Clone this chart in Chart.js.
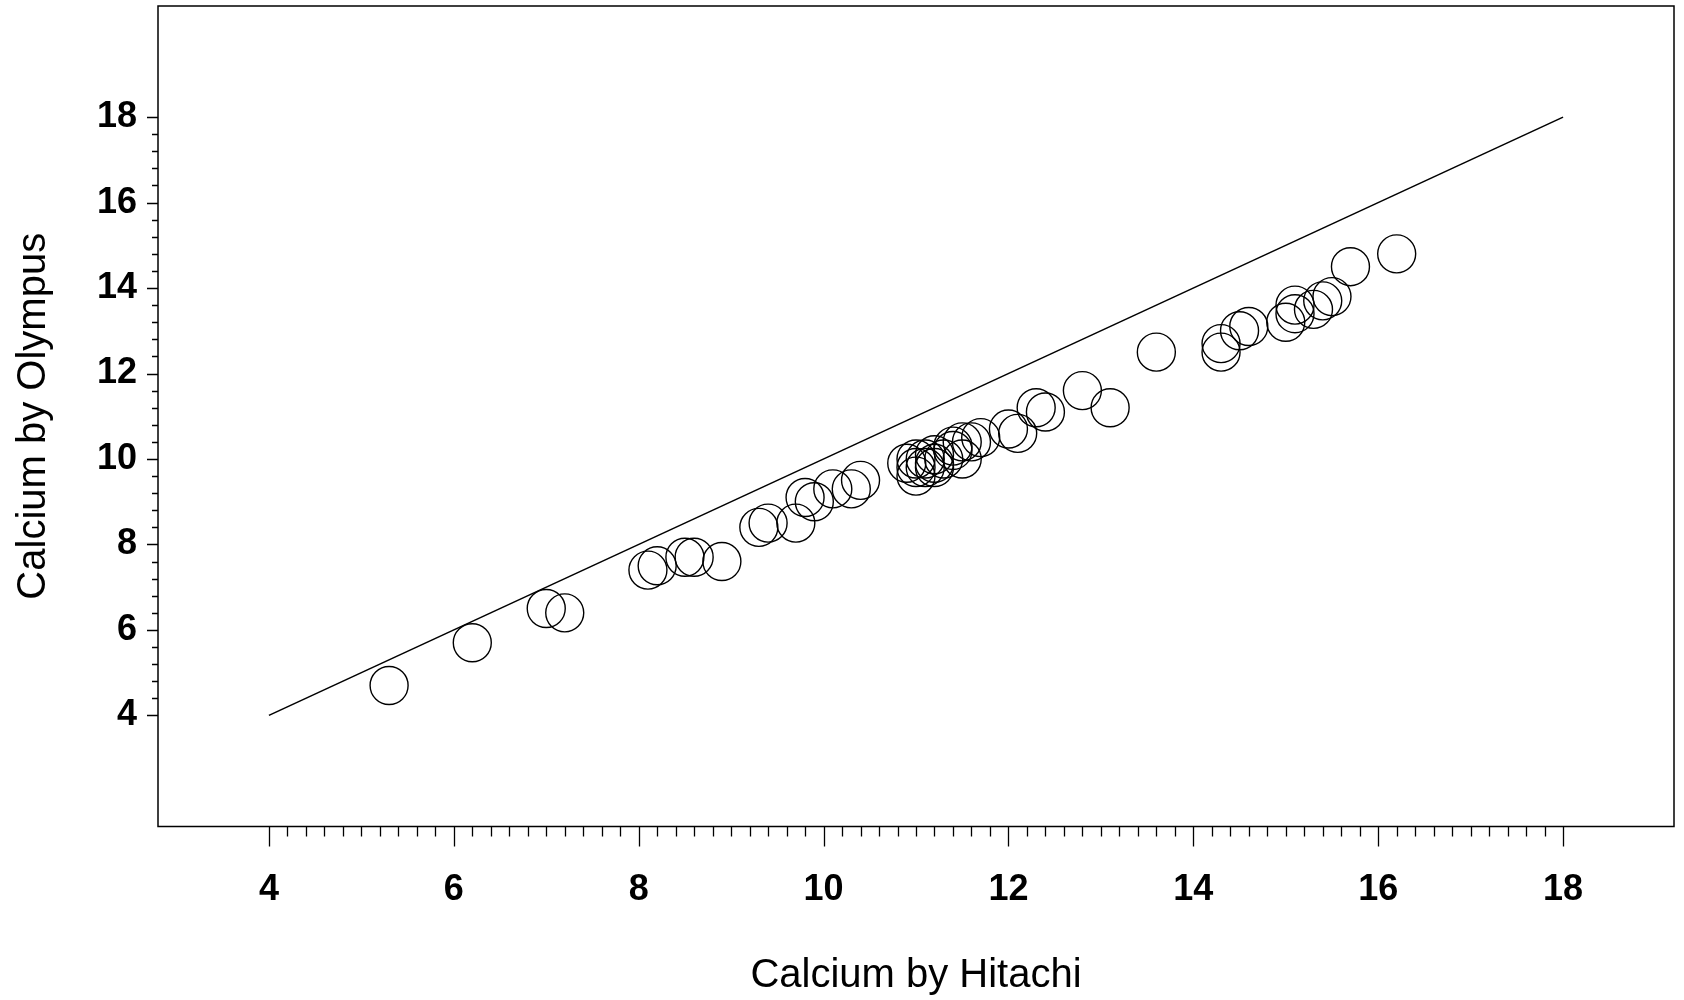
<!DOCTYPE html>
<html><head><meta charset="utf-8">
<script src="https://cdn.jsdelivr.net/npm/chart.js@4"></script>
<style>html,body{margin:0;padding:0;background:#fff}#wrap{width:1684px;height:1000px}</style>
</head><body><div id="wrap"><canvas id="c" width="1684" height="1000"></canvas></div>
<script>
const hitachi = [5.3, 6.2, 7.0, 7.2, 8.1, 8.2, 8.5, 8.6, 8.9, 9.3, 9.4, 9.7, 9.8, 9.9, 10.1, 10.3, 10.4,
  10.9, 11.0, 11.0, 11.0, 11.1, 11.1, 11.2, 11.2, 11.2, 11.3, 11.4, 11.4, 11.5, 11.5, 11.6, 11.7,
  12.0, 12.1, 12.3, 12.4, 12.8, 13.1, 13.6, 14.3, 14.3, 14.5, 14.6, 15.0, 15.1, 15.1, 15.3, 15.4, 15.5, 15.7, 16.2];
const olympus = [4.7, 5.7, 6.5, 6.4, 7.4, 7.5, 7.7, 7.7, 7.6, 8.4, 8.5, 8.5, 9.1, 9.0, 9.3, 9.3, 9.5,
  9.9, 9.6, 10.0, 9.8, 10.0, 9.8, 9.8, 9.9, 10.1, 10.0, 10.2, 10.3, 10.4, 10.0, 10.4, 10.5,
  10.7, 10.6, 11.2, 11.1, 11.6, 11.2, 12.5, 12.7, 12.5, 13.0, 13.1, 13.2, 13.4, 13.6, 13.5, 13.7, 13.8, 14.5, 14.8];
const refLineX = [4, 18];
const refLineY = [4, 18];
const xTickLabels = [4, 6, 8, 10, 12, 14, 16, 18];
const yTickLabels = [4, 6, 8, 10, 12, 14, 16, 18];
const xMinorStep = 0.2;
const yMinorStep = 0.4;
const xTitle = 'Calcium by Hitachi';
const yTitle = 'Calcium by Olympus';

const FONT = "'Liberation Sans', Arial, Helvetica, sans-serif";

const points = hitachi.map((x, i) => ({x: x, y: olympus[i]}));
const lineData = refLineX.map((x, i) => ({x: x, y: refLineY[i]}));

const frameTicks = {
  id: 'frameTicks',
  afterDatasetsDraw(chart) {
    const ctx = chart.ctx;
    const a = chart.chartArea;
    const xs = chart.scales.x, ys = chart.scales.y;
    ctx.save();
    ctx.strokeStyle = '#000';
    ctx.lineWidth = 1.5;
    ctx.strokeRect(a.left, a.top, a.right - a.left, a.bottom - a.top);
    ctx.lineWidth = 1.3;
    ctx.beginPath();
    const x0 = xTickLabels[0], x1 = xTickLabels[xTickLabels.length - 1];
    const nX = Math.round((x1 - x0) / xMinorStep);
    for (let i = 0; i <= nX; i++) {
      const v = x0 + i * xMinorStep;
      const major = xTickLabels.some(t => Math.abs(t - v) < 1e-6);
      const px = Math.round(xs.getPixelForValue(v)) + 0.5;
      ctx.moveTo(px, a.bottom);
      ctx.lineTo(px, a.bottom + (major ? 20 : 10));
    }
    const y0 = yTickLabels[0], y1 = yTickLabels[yTickLabels.length - 1];
    const nY = Math.round((y1 - y0) / yMinorStep);
    for (let i = 0; i <= nY; i++) {
      const v = y0 + i * yMinorStep;
      const major = yTickLabels.some(t => Math.abs(t - v) < 1e-6);
      const py = Math.round(ys.getPixelForValue(v)) + 0.5;
      ctx.moveTo(a.left, py);
      ctx.lineTo(a.left - (major ? 11 : 6), py);
    }
    ctx.stroke();
    ctx.restore();
  }
};

function zeroPad(s) { s.paddingTop = 0; s.paddingBottom = 0; s.paddingLeft = 0; s.paddingRight = 0; }

new Chart(document.getElementById('c'), {
  type: 'scatter',
  data: {
    datasets: [
      {
        data: lineData,
        showLine: true,
        borderColor: '#000',
        borderWidth: 1.6,
        pointRadius: 0,
        fill: false
      },
      {
        data: points,
        pointStyle: 'circle',
        pointRadius: 19,
        borderColor: '#000',
        borderWidth: 1.4,
        backgroundColor: 'rgba(0,0,0,0)'
      }
    ]
  },
  options: {
    responsive: false,
    animation: false,
    events: [],
    layout: {autoPadding: false, padding: {top: 6, right: 10, left: 0, bottom: 0}},
    plugins: {legend: {display: false}, tooltip: {enabled: false}},
    scales: {
      x: {
        type: 'linear',
        min: 2.8,
        max: 19.2,
        afterBuildTicks: s => { s.ticks = xTickLabels.map(v => ({value: v})); },
        afterFit: s => { s.height = 173.5; zeroPad(s); },
        grid: {display: true, drawOnChartArea: false, drawTicks: true, tickLength: 20, color: 'rgba(0,0,0,0)'},
        border: {display: false},
        ticks: {color: '#000', font: {family: FONT, size: 36, weight: 'bold'}, padding: 22, maxRotation: 0, autoSkip: false},
        title: {display: true, text: xTitle, color: '#000', font: {family: FONT, size: 40}, padding: {top: 0, bottom: 0}}
      },
      y: {
        type: 'linear',
        min: 1.4,
        max: 20.6,
        afterBuildTicks: s => { s.ticks = yTickLabels.map(v => ({value: v})); },
        afterFit: s => { s.width = 158; zeroPad(s); },
        grid: {display: true, drawOnChartArea: false, drawTicks: true, tickLength: 11, color: 'rgba(0,0,0,0)'},
        border: {display: false},
        ticks: {color: '#000', font: {family: FONT, size: 36, weight: 'bold'}, padding: 10, autoSkip: false},
        title: {display: true, text: yTitle, color: '#000', font: {family: FONT, size: 40}, padding: {top: 10, bottom: 0}}
      }
    }
  },
  plugins: [frameTicks]
});
</script>
</body></html>
